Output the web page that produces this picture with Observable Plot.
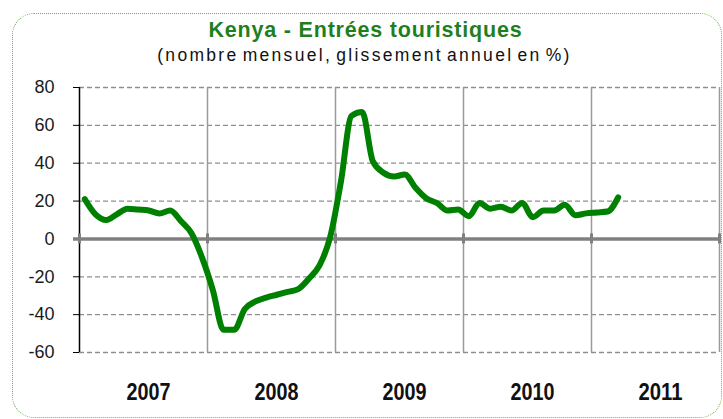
<!DOCTYPE html>
<html>
<head>
<meta charset="utf-8">
<script src="https://cdn.jsdelivr.net/npm/d3@7"></script>
<script src="https://cdn.jsdelivr.net/npm/@observablehq/plot@0.6"></script>
<style>
  html, body { margin: 0; padding: 0; background: #fff; }
  #wrap { position: relative; width: 723px; height: 419px; overflow: hidden; }
  #frame { position: absolute; left: 12px; top: 13px; width: 710px; height: 405px;
           box-sizing: border-box; border: 1.5px dotted #6cb24e; border-radius: 22px; }
  #header { position: relative; height: 70px; width: 723px; }
  .t { position: absolute; left: 0; width: 723px; text-align: center; line-height: 1; white-space: nowrap;
       font-family: "Liberation Sans", Arial, sans-serif; }
  #title { top: 20px; padding-left: 8px; box-sizing: border-box; font-size: 21.5px; font-weight: bold;
           color: #1f7f1f; letter-spacing: 0.8px; }
  #subtitle { top: 47px; padding-left: 6px; box-sizing: border-box; font-size: 17.5px; color: #111;
              letter-spacing: 2.3px; word-spacing: -3px; }
  #chart { position: relative; }
</style>
</head>
<body>
<div id="wrap">
  <div id="frame"></div>
  <div id="header">
    <div class="t" id="title">Kenya - Entrées touristiques</div>
    <div class="t" id="subtitle">(nombre mensuel, glissement annuel en %)</div>
  </div>
  <div id="chart"></div>
</div>
<script>
// ---- data (monthly year-on-year change, %) ----
const years = ["2007", "2008", "2009", "2010", "2011"];
const startYear = 2007;
const values = [
  21, 13, 10, 13, 16, 15.5, 15, 13.5, 15, 9.5, 3, -10,          // 2007
  -27, -48, -48, -37, -33, -31, -29.5, -28, -26.5, -21, -14, 1, // 2008
  30, 65, 67, 41, 35, 33, 34, 27, 21.5, 19, 15, 15.5,           // 2009
  12, 19, 16, 17, 15, 19, 11.5, 15, 15, 18, 12.5, 13.5,         // 2010
  14, 14.5, 22                                                 // 2011
];
const yTicks = [-60, -40, -20, 0, 20, 40, 60, 80];
const yDomain = [-60, 80];

// ---- derived tables ----
const data = values.map((v, i) => ({
  month: new Date(startYear + Math.floor(i / 12), i % 12, 1),
  pos: i + 0.5,
  value: v
}));
const nMonths = years.length * 12;
const yearBounds = d3.range(0, nMonths + 1, 12);
const yearMids = years.map((y, i) => i * 12 + 6);
const gridY = yTicks.filter(d => d !== 0);

const chart = Plot.plot({
  width: 723,
  height: 349,
  marginLeft: 79,
  marginRight: 4,
  marginTop: 17,
  marginBottom: 67,
  style: { fontFamily: '"Liberation Sans", Arial, sans-serif', background: "transparent", overflow: "visible" },
  x: { type: "linear", domain: [0, nMonths], axis: null },
  y: { domain: yDomain, axis: null },
  marks: [
    Plot.ruleY(gridY, { stroke: "#8f8f8f", strokeWidth: 1.3, strokeDasharray: "5,3" }),
    Plot.ruleX(yearBounds.slice(1), { stroke: "#9a9a9a", strokeWidth: 1.5 }),
    Plot.ruleX([0], { stroke: "#000", strokeWidth: 1.5 }),
    Plot.axisY({ ticks: yTicks, tickSize: 6, tickPadding: 19, stroke: "#000", fill: "#1a1a1a",
                 fontSize: 18, label: null, tickFormat: d => String(d) }),
    Plot.ruleY([0], { stroke: "#808080", strokeWidth: 3.5, insetLeft: -6 }),
    Plot.ruleX(yearBounds, { y1: 0, y2: 0, insetTop: -5, insetBottom: -5, stroke: "#808080", strokeWidth: 3 }),
    Plot.line(data, { x: "pos", y: "value", stroke: "#008000", strokeWidth: 6, curve: "monotone-x",
                      strokeLinejoin: "round", strokeLinecap: "round" }),
    Plot.axisX({ ticks: yearMids, tickSize: 0, tickPadding: 31, dx: 5, label: null,
                 tickFormat: d => years[(d - 6) / 12], fontWeight: "bold",
                 fontSize: 23.5, fill: "#111" })
  ]
});
// condense the bold year labels (narrow face is not installed)
d3.select(chart).selectAll('g[aria-label="x-axis tick label"] text')
  .attr("textLength", 44).attr("lengthAdjust", "spacingAndGlyphs");
document.getElementById("chart").appendChild(chart);
</script>
</body>
</html>
